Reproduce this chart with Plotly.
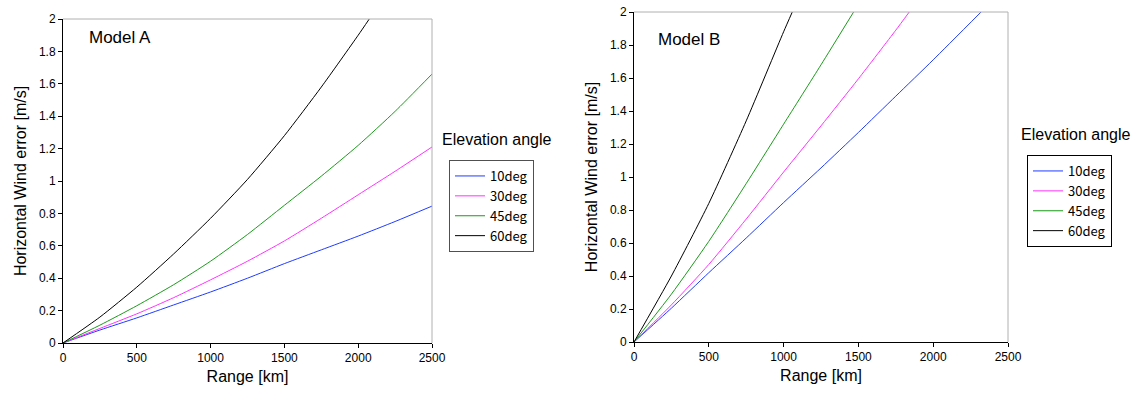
import plotly.graph_objects as go

# ---------------- data ----------------
angles = ["10deg", "30deg", "45deg", "60deg"]
colors = ["#1f3cff", "#ff33ff", "#1a9a1a", "#000000"]

x_a = [0, 250, 500, 750, 1000, 1250, 1500, 1750, 2000, 2250, 2500]
a_10 = [0, 0.08, 0.155, 0.235, 0.315, 0.40, 0.49, 0.575, 0.66, 0.75, 0.845]
a_30 = [0, 0.09, 0.18, 0.28, 0.39, 0.505, 0.63, 0.77, 0.915, 1.06, 1.21]
a_45 = [0, 0.11, 0.23, 0.36, 0.505, 0.67, 0.85, 1.03, 1.22, 1.43, 1.66]
x_a60 = [0, 250, 500, 750, 1000, 1250, 1500, 1750, 2000, 2075]
a_60 = [0, 0.16, 0.345, 0.55, 0.77, 1.01, 1.28, 1.58, 1.90, 2.0]

x_b10 = [0, 250, 500, 750, 1000, 1250, 1500, 1750, 2000, 2320]
b_10 = [0, 0.205, 0.42, 0.63, 0.845, 1.055, 1.27, 1.49, 1.71, 2.0]
x_b30 = [0, 250, 500, 750, 1000, 1250, 1500, 1750, 1840]
b_30 = [0, 0.225, 0.47, 0.745, 1.03, 1.31, 1.595, 1.89, 2.0]
x_b45 = [0, 250, 500, 750, 1000, 1250, 1468]
b_45 = [0, 0.29, 0.61, 0.96, 1.32, 1.68, 2.0]
x_b60 = [0, 250, 500, 750, 1000, 1058]
b_60 = [0, 0.40, 0.84, 1.34, 1.88, 2.0]

x_ticks = [0, 500, 1000, 1500, 2000, 2500]
y_ticks = [0, 0.2, 0.4, 0.6, 0.8, 1, 1.2, 1.4, 1.6, 1.8, 2]
y_tick_labels = ["0", "0.2", "0.4", "0.6", "0.8", "1", "1.2", "1.4", "1.6", "1.8", "2"]

panel_a = [(x_a, a_10), (x_a, a_30), (x_a, a_45), (x_a60, a_60)]
panel_b = [(x_b10, b_10), (x_b30, b_30), (x_b45, b_45), (x_b60, b_60)]

W, H = 1133, 394
TXT = "Liberation Sans, Arial, sans-serif"
LEG = "Noto Sans CJK JP, DejaVu Sans, sans-serif"

fig = go.Figure()
for i, (xs, ys) in enumerate(panel_a):
    fig.add_trace(go.Scatter(x=xs, y=ys, mode="lines", name=angles[i],
                             line=dict(color=colors[i], width=1, shape="spline", smoothing=0.6),
                             xaxis="x", yaxis="y", legend="legend"))
for i, (xs, ys) in enumerate(panel_b):
    fig.add_trace(go.Scatter(x=xs, y=ys, mode="lines", name=angles[i],
                             line=dict(color=colors[i], width=1, shape="spline", smoothing=0.6),
                             xaxis="x2", yaxis="y2", legend="legend2"))

def px_x(p):
    return p / W

def px_y(p):
    return (H - p) / H

axis_common = dict(showgrid=False, zeroline=False, showline=True, linecolor="black",
                   linewidth=1, ticks="outside", ticklen=4, tickcolor="black",
                   automargin=False, ticklabeloverflow="allow",
                   tickfont=dict(family=TXT, size=12, color="black"))
title_font = dict(family=TXT, size=16, color="black")

fig.update_layout(
    width=W, height=H, margin=dict(l=0, r=0, t=0, b=0),
    paper_bgcolor="white", plot_bgcolor="white",
    xaxis=dict(domain=[px_x(63), px_x(432)], range=[0, 2500], tickvals=x_ticks,
               anchor="y", title=dict(text="Range [km]", font=title_font, standoff=6),
               **axis_common),
    yaxis=dict(domain=[px_y(343), px_y(19)], range=[0, 2], tickvals=y_ticks, ticktext=y_tick_labels,
               anchor="x", title=dict(text="Horizontal Wind error [m/s]", font=title_font, standoff=8),
               **axis_common),
    xaxis2=dict(domain=[px_x(634), px_x(1008)], range=[0, 2500], tickvals=x_ticks,
                anchor="y2", title=dict(text="Range [km]", font=title_font, standoff=6),
                **axis_common),
    yaxis2=dict(domain=[px_y(342), px_y(12)], range=[0, 2], tickvals=y_ticks, ticktext=y_tick_labels,
                anchor="x2", title=dict(text="Horizontal Wind error [m/s]", font=title_font, standoff=8),
                **axis_common),
    legend=dict(x=px_x(449), y=px_y(160), xanchor="left", yanchor="top",
                bordercolor="#505050", borderwidth=1, bgcolor="white",
                font=dict(family=LEG, size=13, color="black"), tracegroupgap=0, itemwidth=30),
    legend2=dict(x=px_x(1027), y=px_y(155), xanchor="left", yanchor="top",
                 bordercolor="#000000", borderwidth=1, bgcolor="white",
                 font=dict(family=LEG, size=13, color="black"), tracegroupgap=0, itemwidth=30),
    showlegend=True,
)

# gray top/right frame lines
for xr, yr in [("x domain", "y domain"), ("x2 domain", "y2 domain")]:
    fig.add_shape(type="line", xref=xr, yref=yr, x0=0, x1=1, y0=1, y1=1,
                  line=dict(color="#b0b0b0", width=1))
    fig.add_shape(type="line", xref=xr, yref=yr, x0=1, x1=1, y0=0, y1=1,
                  line=dict(color="#b0b0b0", width=1))

fig.add_annotation(text="Model A", xref="paper", yref="paper", x=px_x(87), y=px_y(37),
                   xanchor="left", yanchor="middle", showarrow=False,
                   font=dict(family=TXT, size=17, color="black"))
fig.add_annotation(text="Model B", xref="paper", yref="paper", x=px_x(656), y=px_y(39),
                   xanchor="left", yanchor="middle", showarrow=False,
                   font=dict(family=TXT, size=17, color="black"))
fig.add_annotation(text="Elevation angle", xref="paper", yref="paper", x=px_x(440), y=px_y(140),
                   xanchor="left", yanchor="middle", showarrow=False,
                   font=dict(family=TXT, size=16, color="black"))
fig.add_annotation(text="Elevation angle", xref="paper", yref="paper", x=px_x(1019), y=px_y(134),
                   xanchor="left", yanchor="middle", showarrow=False,
                   font=dict(family=TXT, size=16, color="black"))

# remove the page's default body margin so the figure fills the window exactly
fig.write_html("out.html", config={"displayModeBar": False},
               post_script="document.body.style.margin='0';")
